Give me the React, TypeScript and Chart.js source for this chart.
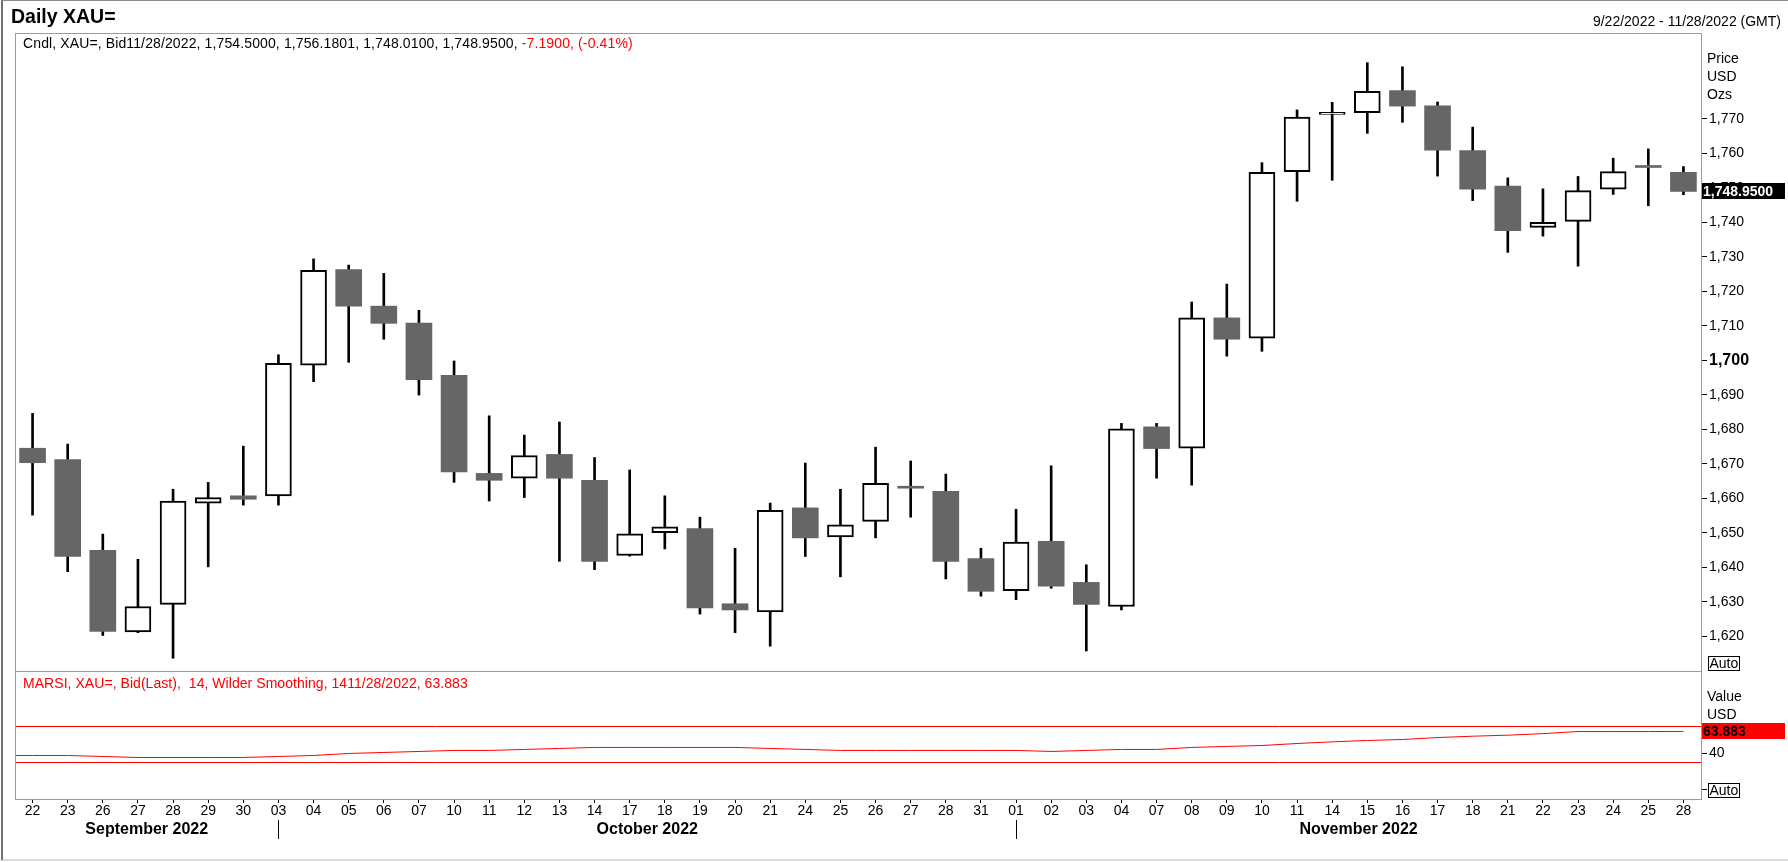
import { useEffect, useRef } from 'react'
import { Chart, registerables } from 'chart.js'

Chart.register(...registerables)

// trading days on the axis, 9/22/2022 - 11/28/2022
const days = [
  '22', '23', '26', '27', '28', '29', '30',
  '03', '04', '05', '06', '07', '10', '11', '12', '13', '14', '17', '18', '19', '20', '21', '24', '25', '26', '27', '28', '31',
  '01', '02', '03', '04', '07', '08', '09', '10', '11', '14', '15', '16', '17', '18', '21', '22', '23', '24', '25', '28'
]
const months = ['September 2022', 'October 2022', 'November 2022']
const monthStart = [0, 7, 28]

const open = [
  1674.5, 1671.2, 1644.9, 1621.2, 1629.2, 1658.6, 1660.7,
  1660.7, 1698.6, 1726.3, 1715.7, 1710.8, 1695.6, 1667.2, 1665.8, 1672.7, 1665.2, 1643.4, 1650.0, 1651.2, 1629.4, 1627.0, 1657.2, 1648.8, 1653.3, 1663.4, 1662.0, 1642.5,
  1633.2, 1647.5, 1635.6, 1628.6, 1680.7, 1674.5, 1712.3, 1706.4, 1754.7, 1771.3, 1771.8, 1778.2, 1773.8, 1760.8, 1750.5, 1738.5, 1740.3, 1749.6, 1756.1, 1754.5
]
const high = [
  1684.6, 1675.7, 1649.6, 1642.3, 1662.6, 1664.6, 1675.1,
  1701.6, 1729.4, 1727.6, 1725.2, 1714.5, 1699.8, 1683.9, 1678.3, 1682.1, 1671.8, 1668.2, 1660.7, 1654.5, 1645.5, 1658.6, 1670.2, 1662.6, 1674.8, 1670.8, 1667.0, 1645.5,
  1656.8, 1669.4, 1640.7, 1681.7, 1681.7, 1716.9, 1722.1, 1757.3, 1772.6, 1774.8, 1786.3, 1785.1, 1774.9, 1767.6, 1752.9, 1749.7, 1753.3, 1758.6, 1761.3, 1756.18
]
const low = [
  1655.1, 1638.7, 1620.2, 1621.0, 1613.6, 1640.1, 1658.0,
  1658.0, 1693.8, 1699.4, 1706.1, 1689.9, 1664.6, 1659.2, 1660.2, 1641.7, 1639.3, 1643.2, 1645.3, 1626.4, 1621.0, 1617.1, 1643.1, 1637.2, 1648.5, 1654.5, 1636.6, 1631.6,
  1630.6, 1633.9, 1615.7, 1627.6, 1665.8, 1663.8, 1701.2, 1702.6, 1746.1, 1752.2, 1765.8, 1769.0, 1753.4, 1746.3, 1731.3, 1736.0, 1727.3, 1748.1, 1744.8, 1748.01
]
const close = [
  1670.3, 1643.1, 1621.4, 1628.6, 1659.2, 1660.2, 1659.7,
  1699.1, 1726.1, 1715.7, 1710.7, 1694.4, 1667.6, 1665.2, 1672.4, 1665.8, 1641.7, 1649.7, 1651.7, 1628.2, 1627.6, 1656.5, 1648.5, 1652.3, 1664.3, 1662.9, 1641.7, 1633.0,
  1647.3, 1634.5, 1629.2, 1680.1, 1674.4, 1712.3, 1706.1, 1754.5, 1770.5, 1771.5, 1778.0, 1773.7, 1760.9, 1749.6, 1737.6, 1740.0, 1749.2, 1754.7, 1755.9, 1748.95
]
const rsi = [
  37.6, 37.6, 36.5, 35.4, 35.4, 35.4, 35.4,
  36.5, 37.6, 39.8, 40.9, 42.0, 43.1, 43.1, 44.2, 45.3, 46.4, 46.4, 46.4, 46.4, 46.4, 45.3, 44.2, 43.1, 43.1, 43.1, 43.1, 43.1,
  43.1, 42.0, 43.1, 44.2, 44.2, 46.4, 47.5, 48.5, 50.7, 52.5, 54.0, 55.1, 57.2, 58.7, 59.8, 61.5, 63.8, 63.8, 63.8, 63.883
]
const rsiLevels = [70, 30]
const priceTicks = [1620, 1630, 1640, 1650, 1660, 1670, 1680, 1690, 1700, 1710, 1720, 1730, 1740, 1750, 1760, 1770]
const rsiTicks = [0, 40]

const FONT = 'Arial, "Liberation Sans", sans-serif'
const FRAME = '#9a9aa4'
const GREY = '#666666'
const RED = '#ff0000'
const AXIS_W = 87

const fmt = (v: number, d = 0) =>
  v.toLocaleString('en-US', { minimumFractionDigits: d, maximumFractionDigits: d })

function drawFrame(ctx: CanvasRenderingContext2D, a: any) {
  ctx.strokeStyle = FRAME
  ctx.lineWidth = 1
  ctx.strokeRect(a.left + 0.5, a.top + 0.5, a.right - a.left, a.bottom - a.top)
}

function unitLabels(ctx: CanvasRenderingContext2D, a: any, lines: string[]) {
  ctx.font = `14px ${FONT}`
  ctx.fillStyle = '#000'
  ctx.textAlign = 'left'
  ctx.textBaseline = 'alphabetic'
  lines.forEach((t, i) => ctx.fillText(t, a.right + 6, a.top + 30 + i * 18))
}

function valueBox(ctx: CanvasRenderingContext2D, a: any, y: number, text: string, bg: string, fg: string) {
  const yy = Math.round(y)
  ctx.fillStyle = bg
  ctx.fillRect(a.right + 1, yy - 8, 83, 16)
  ctx.fillStyle = fg
  ctx.font = `bold 14px ${FONT}`
  ctx.textAlign = 'left'
  ctx.textBaseline = 'alphabetic'
  ctx.fillText(text, a.right + 2, yy + 5)
}

function autoBox(ctx: CanvasRenderingContext2D, x: number, top: number) {
  ctx.strokeStyle = '#000'
  ctx.lineWidth = 1
  ctx.strokeRect(x + 0.5, top + 0.5, 31, 14)
  ctx.fillStyle = '#000'
  ctx.font = `14px ${FONT}`
  ctx.textAlign = 'left'
  ctx.textBaseline = 'alphabetic'
  ctx.fillText('Auto', x + 1.5, top + 12)
}

const priceDecor = {
  id: 'priceDecor',
  afterDraw(chart: any) {
    const { ctx, chartArea: a, scales } = chart
    ctx.save()
    drawFrame(ctx, a)
    unitLabels(ctx, a, ['Price', 'USD', 'Ozs'])
    const last = close[close.length - 1]
    valueBox(ctx, a, scales.y.getPixelForValue(last), fmt(last, 4), '#000', '#fff')
    autoBox(ctx, a.right + 7, a.bottom - 15)
    ctx.restore()
  }
}

const rsiDecor = {
  id: 'rsiDecor',
  beforeDatasetsDraw(chart: any) {
    const { ctx, chartArea: a, scales } = chart
    ctx.save()
    ctx.strokeStyle = RED
    ctx.lineWidth = 1
    rsiLevels.forEach(v => {
      const y = Math.round(scales.y.getPixelForValue(v)) + 0.5
      ctx.beginPath()
      ctx.moveTo(a.left, y)
      ctx.lineTo(a.right, y)
      ctx.stroke()
    })
    // the study line carries on from the left edge of the panel
    const y0 = scales.y.getPixelForValue(rsi[0])
    ctx.beginPath()
    ctx.moveTo(a.left, y0)
    ctx.lineTo(scales.x.getPixelForValue(0), y0)
    ctx.stroke()
    ctx.restore()
  },
  afterDraw(chart: any) {
    const { ctx, chartArea: a, scales } = chart
    ctx.save()
    drawFrame(ctx, a)
    unitLabels(ctx, a, ['Value', 'USD'])
    const last = rsi[rsi.length - 1]
    valueBox(ctx, a, scales.y.getPixelForValue(last), last.toFixed(3), RED, '#000')
    autoBox(ctx, a.right + 7, Math.round(scales.y.getPixelForValue(0)) - 7)

    // month captions and separators
    const seps = monthStart.slice(1).map(i => scales.x.getPixelForValue(i))
    const bounds = [a.left, ...seps, a.right]
    ctx.fillStyle = '#000'
    ctx.font = `bold 16px ${FONT}`
    ctx.textAlign = 'center'
    ctx.textBaseline = 'alphabetic'
    months.forEach((m, k) => ctx.fillText(m, (bounds[k] + bounds[k + 1]) / 2, a.bottom + 35))
    ctx.strokeStyle = '#000'
    seps.forEach(x => {
      const xx = Math.round(x) + 0.5
      ctx.beginPath()
      ctx.moveTo(xx, a.bottom + 21)
      ctx.lineTo(xx, a.bottom + 40)
      ctx.stroke()
    })
    ctx.restore()
  }
}

export default function App() {
  const priceRef = useRef<HTMLCanvasElement>(null)
  const rsiRef = useRef<HTMLCanvasElement>(null)

  useEffect(() => {
    if (!priceRef.current || !rsiRef.current) return
    Chart.defaults.font.family = FONT
    Chart.defaults.font.size = 14
    Chart.defaults.color = '#000'

    const up = close.map((c, i) => c >= open[i])

    const priceChart = new Chart(priceRef.current, {
      type: 'bar',
      data: {
        labels: days,
        datasets: [
          {
            data: low.map((l, i) => [l, high[i]]),
            backgroundColor: '#000',
            barThickness: 2,
            grouped: false,
            order: 2
          },
          {
            data: open.map((o, i) => [o, close[i]]),
            backgroundColor: up.map(u => (u ? '#fff' : GREY)),
            borderColor: up.map(u => (u ? '#000' : GREY)),
            borderWidth: up.map(u => (u ? 2 : 0)),
            borderSkipped: false,
            barThickness: 26,
            minBarLength: 2,
            grouped: false,
            order: 1
          }
        ] as any
      },
      options: {
        responsive: false,
        animation: false,
        devicePixelRatio: 1,
        events: [],
        layout: { padding: { left: 15, top: 33, right: 0, bottom: 1 } },
        plugins: { legend: { display: false }, tooltip: { enabled: false } },
        scales: {
          x: { display: false, offset: true },
          y: {
            position: 'right',
            min: 1609.9,
            max: 1794.9,
            afterBuildTicks: (s: any) => { s.ticks = priceTicks.map(v => ({ value: v })) },
            afterFit: (s: any) => { s.width = AXIS_W; s.paddingTop = 0; s.paddingBottom = 0 },
            grid: { drawOnChartArea: false, tickLength: 6, tickColor: '#000' },
            border: { display: false },
            ticks: {
              padding: 2,
              color: '#000',
              font: (c: any) => (c.tick && c.tick.value === 1700 ? { size: 16, weight: 'bold' } : { size: 14 }),
              callback: (v: any) => fmt(Number(v))
            }
          }
        }
      } as any,
      plugins: [priceDecor]
    })

    const rsiChart = new Chart(rsiRef.current, {
      type: 'line',
      data: {
        labels: days,
        datasets: [
          {
            data: rsi,
            borderColor: RED,
            borderWidth: 1,
            pointRadius: 0,
            tension: 0
          }
        ]
      },
      options: {
        responsive: false,
        animation: false,
        devicePixelRatio: 1,
        events: [],
        layout: { padding: { left: 15, top: 0, right: 0, bottom: 0 } },
        plugins: { legend: { display: false }, tooltip: { enabled: false } },
        scales: {
          x: {
            offset: true,
            afterFit: (s: any) => { s.height = 63; s.paddingLeft = 0; s.paddingRight = 0 },
            grid: { drawOnChartArea: false, offset: false, tickLength: 4, tickColor: '#000' },
            border: { display: false },
            ticks: { autoSkip: false, maxRotation: 0, padding: 0, color: '#000', font: { size: 14 } }
          },
          y: {
            position: 'right',
            min: -10,
            max: 130,
            afterBuildTicks: (s: any) => { s.ticks = rsiTicks.map(v => ({ value: v })) },
            afterFit: (s: any) => { s.width = AXIS_W; s.paddingTop = 0; s.paddingBottom = 0 },
            grid: { drawOnChartArea: false, tickLength: 6, tickColor: '#000' },
            border: { display: false },
            ticks: {
              padding: 2,
              color: '#000',
              font: { size: 14 },
              callback: (v: any) => (Number(v) === 0 ? '' : String(v))
            }
          }
        }
      } as any,
      plugins: [rsiDecor]
    })

    return () => {
      priceChart.destroy()
      rsiChart.destroy()
    }
  }, [])

  const text = { position: 'absolute' as const, whiteSpace: 'pre' as const, fontSize: 14, lineHeight: '14px' }

  return (
    <div style={{ position: 'absolute', left: 0, top: 0, width: 1788, height: 862, background: '#fff', fontFamily: FONT, color: '#000', overflow: 'hidden' }}>
      <div style={{ position: 'absolute', left: 1, top: 0, width: 1787, height: 861, boxSizing: 'border-box', borderLeft: '2px solid #707070', borderTop: '1px solid #8c8c8c', borderBottom: '2px solid #dadada' }} />
      <canvas ref={priceRef} width={1788} height={672} style={{ position: 'absolute', left: 0, top: 0 }} />
      <canvas ref={rsiRef} width={1788} height={191} style={{ position: 'absolute', left: 0, top: 671 }} />
      <div style={{ position: 'absolute', left: 11, top: 7, fontSize: 19.5, lineHeight: '19.5px', fontWeight: 'bold', whiteSpace: 'pre' }}>Daily XAU=</div>
      <div style={{ ...text, right: 7, top: 14 }}>9/22/2022 - 11/28/2022 (GMT)</div>
      <div style={{ ...text, left: 23, top: 36, letterSpacing: '0.12px' }}>
        Cndl, XAU=, Bid11/28/2022, 1,754.5000, 1,756.1801, 1,748.0100, 1,748.9500, <span style={{ color: RED }}>-7.1900, (-0.41%)</span>
      </div>
      <div style={{ ...text, left: 23, top: 676, color: RED, letterSpacing: '0.05px' }}>MARSI, XAU=, Bid(Last),  14, Wilder Smoothing, 1411/28/2022, 63.883</div>
    </div>
  )
}
